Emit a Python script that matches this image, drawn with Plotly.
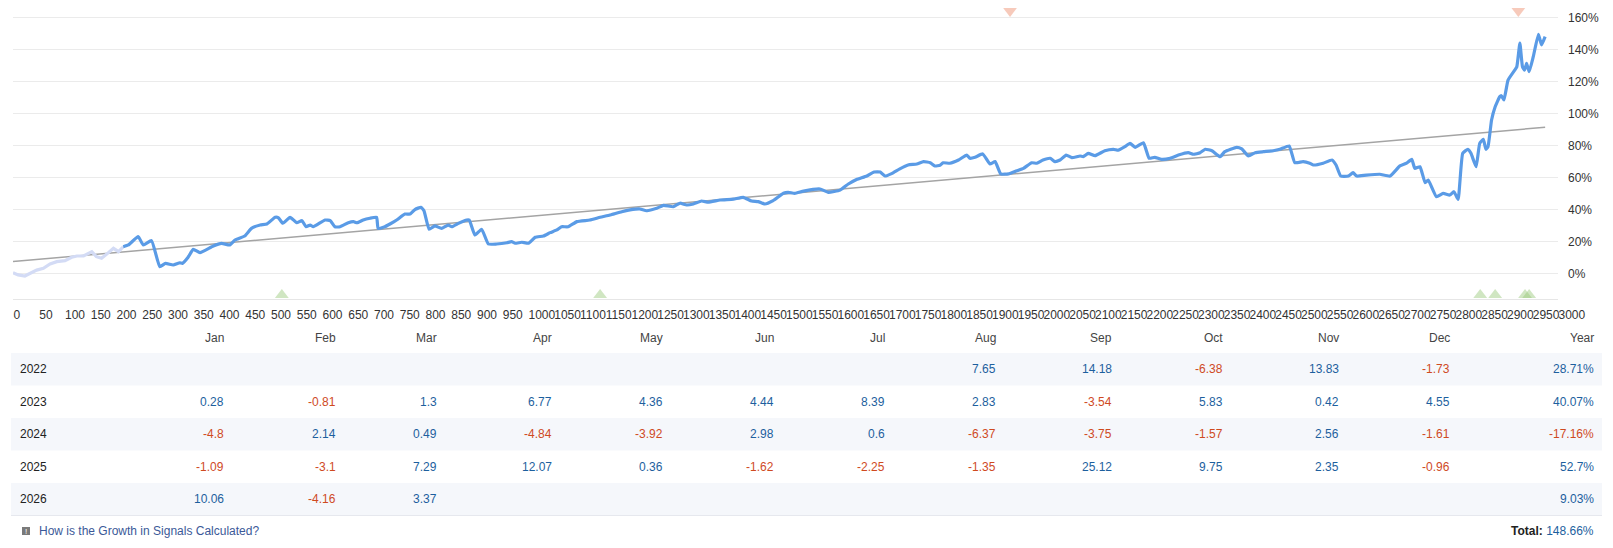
import plotly.graph_objects as go

# page body has an 8px margin: the figure is drawn offset by it
OFF = 8
W, H = 1613 - OFF, 548 - OFF

# ---------------- data ----------------
eq_x = [0, 10, 23, 36, 46, 59, 72, 85, 101, 114, 124, 137, 153, 162, 172, 182, 195, 205, 214,
        224, 243, 253, 269, 285, 296, 311, 324, 329, 340, 350, 363, 389, 405, 421, 431, 450, 463,
        480, 493, 509, 515, 524, 538, 551, 561, 569, 577, 583, 606, 616, 625, 635, 651, 661, 668,
        680, 693, 706, 709, 722, 732, 745, 761, 771, 781, 792, 798,
        808, 819, 832, 845, 852, 865, 881, 886, 897, 910, 923, 939, 959, 968, 975, 988, 1001, 1014,
        1030, 1043, 1056, 1065, 1078, 1095, 1120, 1140, 1159, 1182, 1198, 1217, 1230, 1250, 1263,
        1282, 1295, 1308, 1321, 1337, 1350, 1373, 1399, 1418, 1434, 1447, 1460, 1476, 1496, 1505,
        1518, 1535, 1567, 1583, 1606, 1622, 1638, 1658, 1672, 1684, 1693, 1706, 1722,
        1738, 1755, 1768, 1781, 1790, 1800, 1806, 1819, 1836, 1852, 1858, 1868, 1883, 1897, 1907,
        1918, 1933, 1949, 1962, 1978, 1988, 2000, 2014, 2023, 2033, 2045, 2056, 2072, 2078, 2088,
        2101, 2120, 2137, 2146, 2159, 2169, 2179, 2195, 2206, 2217, 2230, 2247, 2263, 2282, 2292,
        2305, 2315, 2328, 2344, 2353, 2376, 2386, 2399, 2412, 2428, 2447, 2460, 2478, 2489,
        2505, 2518, 2525, 2544, 2561, 2569, 2578, 2593, 2602, 2609, 2628, 2654, 2674, 2693, 2706,
        2716, 2722, 2732, 2742, 2748, 2764, 2777, 2790, 2798, 2806, 2815, 2825, 2831, 2841, 2848,
        2855, 2860, 2864, 2871, 2878, 2887, 2890, 2895, 2903, 2916, 2920, 2926, 2931, 2935, 2939,
        2944, 2952, 2962, 2968, 2975]
eq_y = [0.4, -1, -1.7, 0.4, 2, 3.1, 5.8, 7.3, 7.9, 10, 10.8, 10.8, 13.5, 10.4, 9.4, 12, 15.6, 13.5, 16.6,
        17.7, 22.9, 17.7, 20.4, 4.1, 6.2, 5.2, 6.6, 6.2, 10, 15, 12.9, 17.1, 18.7, 17.7, 20.8, 23.3, 28.1,
        30.2, 30.8, 35, 34.8, 31.3, 35, 31.6, 32.9, 29.1, 30.2, 29.1, 33.3, 32.9, 29.1, 29.1, 31.6, 32.3, 31.6,
        33.3, 34.4, 35, 28.1, 29.1, 30.8, 33.3, 37, 37, 40, 41.2, 39.1,
        27.5, 29.6, 28.1, 30.2, 29.1, 31.2, 33.3, 33.3, 23.9, 27.5, 18.3, 18.3, 19.1, 19.8, 18.8, 19.4, 18.8, 22.5,
        23.3, 25.4, 27.1, 29.1, 29.1, 32.3, 33.3, 35, 36.4, 38.5, 39.6, 40.2, 39.1, 40.6, 42.5,
        41.6, 43.8, 42.7, 43.3, 45.2, 44.4, 45.8, 46.4, 47.5, 45.2, 44.8, 43.3, 45.4, 50, 50.6,
        50, 51.4, 52.7, 50.6, 52, 55.8, 58.6, 60.8, 63.3, 63.3, 60.8, 62.3, 65.3,
        67.7, 68.3, 69.8, 69.1, 67.1, 67.5, 69.1, 68.8, 70.8, 73.9, 71.9, 72.5, 74.6, 68.3, 69.8,
        62.1, 62.1, 64.1, 65.6, 69.1, 68.8, 70.8, 71.9, 69.8, 70.8, 73.9, 72.3, 73.3, 72.9, 75,
        73.5, 76.6, 77.5, 76.9, 79.1, 81.2, 78.7, 81.6, 71.9, 72.5, 71.2, 71.9, 73.9, 75.4, 74.4,
        75.4, 77.5, 76.6, 72.9, 76, 78.7, 77.7, 73.3, 75.4, 76, 76.6, 77.5, 79.6, 69.1,
        69.8, 68.8, 67.7, 68.8, 70.8, 67.7, 60.8, 60.8, 62.9, 60.8, 61.4, 61.9, 60.8, 67.1, 68.8,
        71.2, 65.6, 66.6, 56.6, 58.3, 47.9, 50, 48.9, 51, 46.2, 75, 77.5, 75, 66.6, 81.2,
        83.7, 77.5, 79, 95.8, 104.1, 110.4, 111, 108.3, 120.8, 127, 129, 143.8, 129.1, 127, 131.2,
        126, 135.4, 149.4, 142.7, 147.9]
history_end_x = 214           # end of the faded (pre-monitoring) part
trend_x = [0, 2975]
trend_y = [7.3, 91.3]
deposit_x = [522, 1140, 2849, 2878, 2936, 2944]
withdraw_x = [1936, 2923]

x_ticks = list(range(0, 3001, 50))
y_ticks = list(range(0, 161, 20))

months = ["Jan", "Feb", "Mar", "Apr", "May", "Jun", "Jul", "Aug", "Sep", "Oct", "Nov", "Dec"]
years = ["2022", "2023", "2024", "2025", "2026"]
monthly = [
    [None, None, None, None, None, None, None, 7.65, 14.18, -6.38, 13.83, -1.73],
    [0.28, -0.81, 1.3, 6.77, 4.36, 4.44, 8.39, 2.83, -3.54, 5.83, 0.42, 4.55],
    [-4.8, 2.14, 0.49, -4.84, -3.92, 2.98, 0.6, -6.37, -3.75, -1.57, 2.56, -1.61],
    [-1.09, -3.1, 7.29, 12.07, 0.36, -1.62, -2.25, -1.35, 25.12, 9.75, 2.35, -0.96],
    [10.06, -4.16, 3.37, None, None, None, None, None, None, None, None, None],
]
year_total = [28.71, 40.07, -17.16, 52.7, 9.03]
grand_total = 148.66
footer_link = "How is the Growth in Signals Calculated?"

# ---------------- layout constants (window pixel coords) ----------------
PLOT_L, PLOT_R = 13, 1558
PLOT_T, PLOT_B = 8, 299.3
Y_MIN = (273.3 - PLOT_B) / 1.6
Y_MAX = (273.3 - PLOT_T) / 1.6

BLUE = "#5a9be6"
LIGHT = "#d3dbf5"
POS = "#1d5f9e"
NEG = "#cf4a1f"
FONT_AX = "Liberation Sans, Arial, sans-serif"
FONT_TB = "Trebuchet MS, Liberation Sans, Arial, sans-serif"


def X(px):
    return (px - OFF) / W


def Y(py):
    return 1 - (py - OFF) / H


fig = go.Figure()

lx = [x for x in eq_x if x <= history_end_x]
ly = eq_y[:len(lx)]
dx = eq_x[len(lx) - 1:]
dy = eq_y[len(lx) - 1:]

fig.add_trace(go.Scatter(x=trend_x, y=trend_y, mode="lines",
                         line=dict(color="#a4a4a4", width=1.5), hoverinfo="skip"))
fig.add_trace(go.Scatter(x=lx, y=ly, mode="lines", line=dict(color=LIGHT, width=3.2)))
fig.add_trace(go.Scatter(x=dx, y=dy, mode="lines",
                         line=dict(color=BLUE, width=3.2, shape="spline", smoothing=0.4)))
fig.add_trace(go.Scatter(x=deposit_x, y=[-13.6] * len(deposit_x), mode="markers",
                         marker=dict(symbol="triangle-up", size=12, color="rgba(150,200,120,0.45)",
                                     line=dict(width=0)), cliponaxis=False))
fig.add_trace(go.Scatter(x=withdraw_x, y=[164.0] * len(withdraw_x), mode="markers",
                         marker=dict(symbol="triangle-down", size=12, color="rgba(240,150,120,0.5)",
                                     line=dict(width=0)), cliponaxis=False))

fig.update_layout(
    width=W, height=H, autosize=False,
    margin=dict(l=0, r=0, t=0, b=0, autoexpand=False),
    paper_bgcolor="white", plot_bgcolor="white",
    showlegend=False,
    xaxis=dict(domain=[X(PLOT_L), X(PLOT_R)], range=[0, 3000], automargin=False,
               tickmode="array", tickvals=x_ticks, ticktext=[str(t) for t in x_ticks],
               tickangle=0, ticklabelposition="outside right",
               showgrid=False, zeroline=False, showline=True, linecolor="#e6e6e6", linewidth=1,
               ticks="", ticklabelstandoff=4,
               tickfont=dict(family=FONT_AX, size=12, color="#333333")),
    yaxis=dict(domain=[Y(PLOT_B), Y(PLOT_T)], range=[Y_MIN, Y_MAX], side="right", automargin=False,
               tickmode="array", tickvals=y_ticks, ticktext=[f"{t}%" for t in y_ticks],
               showgrid=True, gridcolor="#ebebeb", gridwidth=1, zeroline=False,
               ticks="", ticklabelstandoff=9,
               tickfont=dict(family=FONT_AX, size=12, color="#333333")),
)

shapes = []
annotations = []

# table
col_right = [225.5, 337, 438, 553, 663.7, 775, 886, 997, 1113, 1224, 1340, 1451, 1595]
ROW_TOP = 353
ROW_H = 32.5
HEAD_Y = 338
TBL_L, TBL_R = 11, 1602

for r in range(len(years)):
    if r % 2 == 0:
        shapes.append(dict(type="rect", xref="paper", yref="paper",
                           x0=X(TBL_L), x1=X(TBL_R), y0=Y(ROW_TOP + r * ROW_H),
                           y1=Y(ROW_TOP + (r + 1) * ROW_H),
                           fillcolor="#f5f7fb", line=dict(width=0), layer="below"))
shapes.append(dict(type="line", xref="paper", yref="paper", x0=X(TBL_L), x1=X(TBL_R),
                   y0=Y(ROW_TOP + len(years) * ROW_H), y1=Y(ROW_TOP + len(years) * ROW_H),
                   line=dict(color="#e6e8ee", width=1)))


def ann(text, px, py, anchor, color, size=12, family=FONT_TB):
    annotations.append(dict(text=text, x=X(px), y=Y(py), xref="paper", yref="paper",
                            xanchor=anchor, yanchor="middle", showarrow=False, borderpad=0,
                            font=dict(family=family, size=size, color=color)))


for i, m in enumerate(months):
    ann(m, col_right[i], HEAD_Y, "right", "#444444")
ann("Year", col_right[12], HEAD_Y, "right", "#444444")

for r, yr in enumerate(years):
    cy = ROW_TOP + r * ROW_H + ROW_H / 2
    ann(yr, 19, cy, "left", "#222222")
    for c, v in enumerate(monthly[r]):
        if v is None:
            continue
        ann(f"{v:g}", col_right[c], cy, "right", POS if v >= 0 else NEG)
    t = year_total[r]
    ann(f"{t:g}%", col_right[12], cy, "right", POS if t >= 0 else NEG)

# footer
FOOT_Y = 531
shapes.append(dict(type="rect", xref="paper", yref="paper", x0=X(22), x1=X(30),
                   y0=Y(FOOT_Y + 4), y1=Y(FOOT_Y - 4), fillcolor="#7a7a7a", line=dict(width=0)))
ann("!", 26, FOOT_Y, "center", "white", size=8)
ann(footer_link, 38, FOOT_Y, "left", "#3b5998")
annotations.append(dict(text=f"<b>Total:</b> <span style='color:{POS}'>{grand_total:g}%</span>",
                        x=X(1595), y=Y(FOOT_Y), xref="paper", yref="paper", xanchor="right",
                        yanchor="middle", showarrow=False, borderpad=0,
                        font=dict(family=FONT_TB, size=12, color="#222222")))

fig.update_layout(shapes=shapes, annotations=annotations)
fig.write_html("out.html")
